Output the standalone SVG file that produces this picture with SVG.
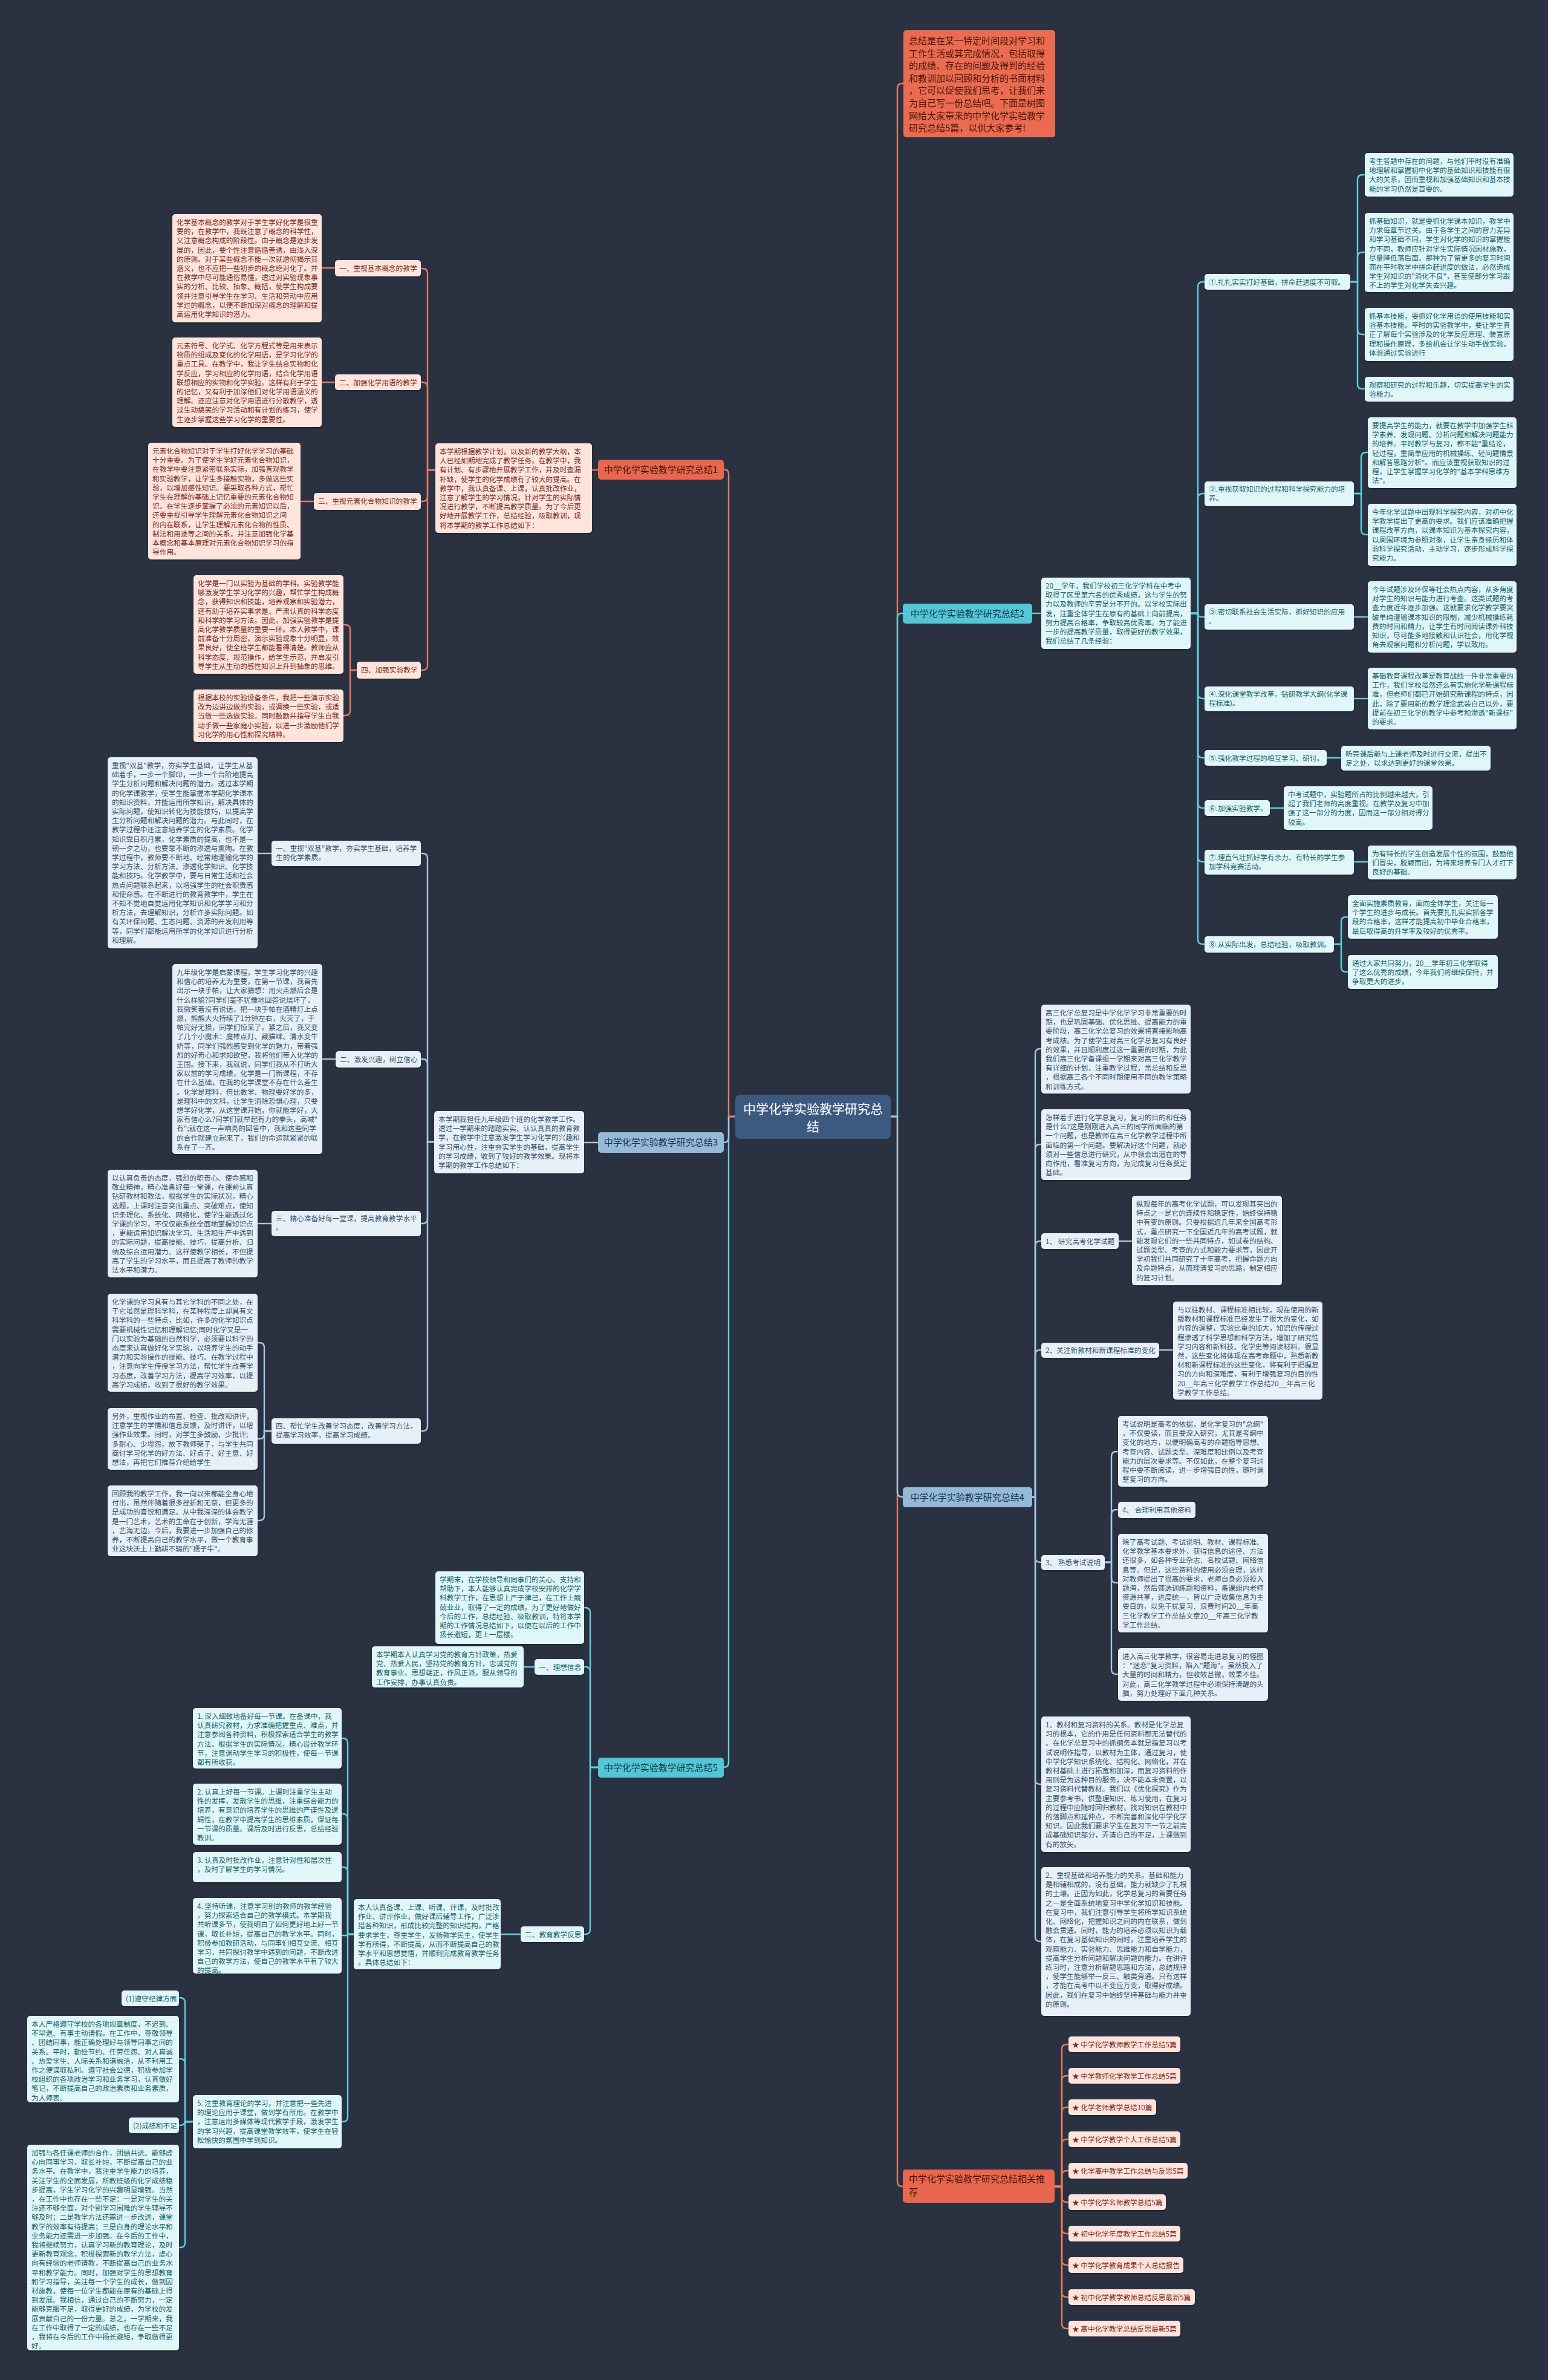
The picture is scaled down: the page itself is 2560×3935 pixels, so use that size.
<svg xmlns="http://www.w3.org/2000/svg" width="2560" height="3935" viewBox="0 0 2560 3935">
<defs>
<filter id="sh" x="-5%" y="-5%" width="110%" height="115%"><feDropShadow dx="0" dy="1.5" stdDeviation="1" flood-color="#000" flood-opacity="0.35"/></filter>
<style>
text{font-family:"Noto Sans CJK SC","Noto Sans",sans-serif}
.s{font-size:11.7px}
.ot{fill:#7e2b1c}.ct{fill:#16646e}.bt{fill:#33546f}
.ob{fill:#fde4dc;filter:url(#sh)}.cb{fill:#e0f6f8;filter:url(#sh)}.bb{fill:#e8f0f7;filter:url(#sh)}
.lab{font-size:15px}
.lo-f{fill:#e8674e}.lc-f{fill:#55c6d7}.lb-f{fill:#94b9d9}
.lot{fill:#4a1208}.lct{fill:#0c3d44}.lbt{fill:#1b3350}
#edges path{fill:none;stroke-width:2.4}
.lo{stroke:#e57a5f}.lc{stroke:#62cde0}.lb{stroke:#a6c6e2}
</style>
</defs>
<rect x="0" y="0" width="2560" height="3935" fill="#2a3242"/>
<g id="edges">
<path class="lc" d="M1216,1846 H1205 V2914 Q1205,2922 1197,2922"/>
<path class="lb" d="M1216,1846 H1205 V1881 Q1205,1889 1197,1889"/>
<path class="lo" d="M1216,1846 H1205 V784 Q1205,776 1197,776"/>
<path class="lo" d="M1473,1846 H1484 V146 Q1484,138 1492,138 H1494"/>
<path class="lo" d="M1473,1846 H1484 V3607 Q1484,3615 1492,3615 H1493"/>
<path class="lc" d="M1473,1846 H1484 V1022 Q1484,1014 1492,1014 H1493"/>
<path class="lb" d="M1473,1846 H1484 V2467 Q1484,2475 1492,2475 H1493"/>
<path class="lo" d="M989,777 H979"/>
<path class="lo" d="M720,777 H707 V452 Q707,444 699,444 H696"/>
<path class="lo" d="M720,777 H707 V640 Q707,632 699,632 H696"/>
<path class="lo" d="M720,777 H707 V821 Q707,829 699,829 H696"/>
<path class="lo" d="M720,777 H707 V1100 Q707,1108 699,1108 H696"/>
<path class="lo" d="M554,443 H532"/>
<path class="lo" d="M554,632 H532"/>
<path class="lo" d="M519,829 H497"/>
<path class="lo" d="M590,1108 H579 V1041 Q579,1033 571,1033 H568"/>
<path class="lo" d="M590,1108 H579 V1175 Q579,1183 571,1183 H568"/>
<path class="lb" d="M989,1889 H966"/>
<path class="lb" d="M718,1888 H707 V1419 Q707,1411 699,1411 H696"/>
<path class="lb" d="M718,1888 H707 V1759 Q707,1751 699,1751 H696"/>
<path class="lb" d="M718,1888 H707 V2015 Q707,2023 699,2023 H696"/>
<path class="lb" d="M718,1888 H707 V2358 Q707,2366 699,2366 H696"/>
<path class="lb" d="M449,1411 H426"/>
<path class="lb" d="M555,1751 H533"/>
<path class="lb" d="M449,2023 H426"/>
<path class="lb" d="M449,2366 H437 V2228 Q437,2220 429,2220 H426"/>
<path class="lb" d="M449,2366 H437 V2371 Q437,2379 429,2379 H426"/>
<path class="lb" d="M449,2366 H437 V2506 Q437,2514 429,2514 H426"/>
<path class="lc" d="M1707,1014 H1722"/>
<path class="lc" d="M1969,1014 H1981 V474 Q1981,466 1989,466 H1992"/>
<path class="lc" d="M1969,1014 H1981 V824 Q1981,816 1989,816 H1992"/>
<path class="lc" d="M1969,1014 H1981 Q1981,1020 1987,1020 H1992"/>
<path class="lc" d="M1969,1014 H1981 V1147 Q1981,1155 1989,1155 H1992"/>
<path class="lc" d="M1969,1014 H1981 V1245 Q1981,1253 1989,1253 H1992"/>
<path class="lc" d="M1969,1014 H1981 V1328 Q1981,1336 1989,1336 H1992"/>
<path class="lc" d="M1969,1014 H1981 V1417 Q1981,1425 1989,1425 H1992"/>
<path class="lc" d="M1969,1014 H1981 V1553 Q1981,1561 1989,1561 H1992"/>
<path class="lc" d="M2233,466 H2245 V297 Q2245,289 2253,289 H2257"/>
<path class="lc" d="M2233,466 H2245 V425 Q2245,417 2253,417 H2257"/>
<path class="lc" d="M2233,466 H2245 V545 Q2245,553 2253,553 H2257"/>
<path class="lc" d="M2233,466 H2245 V635 Q2245,643 2253,643 H2257"/>
<path class="lc" d="M2239,816 H2251 V756 Q2251,748 2259,748 H2262"/>
<path class="lc" d="M2239,816 H2251 V876 Q2251,884 2259,884 H2262"/>
<path class="lc" d="M2239,1020 H2262"/>
<path class="lc" d="M2239,1155 H2262"/>
<path class="lc" d="M2194,1253 H2218"/>
<path class="lc" d="M2100,1336 H2123"/>
<path class="lc" d="M2239,1425 H2262"/>
<path class="lc" d="M2206,1561 H2218 V1524 Q2218,1516 2226,1516 H2229"/>
<path class="lc" d="M2206,1561 H2218 V1599 Q2218,1607 2226,1607 H2229"/>
<path class="lb" d="M1707,2475 H1712 V1742 Q1712,1734 1720,1734 H1722"/>
<path class="lb" d="M1707,2475 H1712 V1900 Q1712,1892 1720,1892 H1722"/>
<path class="lb" d="M1707,2475 H1712 V2060 Q1712,2052 1720,2052 H1722"/>
<path class="lb" d="M1707,2475 H1712 V2240 Q1712,2232 1720,2232 H1722"/>
<path class="lb" d="M1707,2475 H1712 V2575 Q1712,2583 1720,2583 H1722"/>
<path class="lb" d="M1707,2475 H1712 V2942 Q1712,2950 1720,2950 H1722"/>
<path class="lb" d="M1707,2475 H1712 V3202 Q1712,3210 1720,3210 H1722"/>
<path class="lb" d="M1850,2052 H1872"/>
<path class="lb" d="M1917,2232 H1940"/>
<path class="lb" d="M1827,2583 H1838 V2408 Q1838,2400 1846,2400 H1849"/>
<path class="lb" d="M1827,2583 H1838 V2504 Q1838,2496 1846,2496 H1849"/>
<path class="lb" d="M1827,2583 H1838 V2609 Q1838,2617 1846,2617 H1849"/>
<path class="lb" d="M1827,2583 H1838 V2760 Q1838,2768 1846,2768 H1849"/>
<path class="lc" d="M989,2922 H976 V2666 Q976,2658 968,2658 H966"/>
<path class="lc" d="M989,2922 H976 V2764 Q976,2756 968,2756 H966"/>
<path class="lc" d="M989,2922 H976 V3190 Q976,3198 968,3198 H966"/>
<path class="lc" d="M884,2756 H866"/>
<path class="lc" d="M861,3198 H828"/>
<path class="lc" d="M585,3198 H575 V2882 Q575,2874 567,2874 H565"/>
<path class="lc" d="M585,3198 H575 V3007 Q575,2999 567,2999 H565"/>
<path class="lc" d="M585,3198 H575 V3095 Q575,3087 567,3087 H565"/>
<path class="lc" d="M585,3198 H575 Q575,3200 573,3200 H565"/>
<path class="lc" d="M585,3198 H575 V3500 Q575,3508 567,3508 H565"/>
<path class="lc" d="M319,3508 H306 V3311 Q306,3303 298,3303 H296"/>
<path class="lc" d="M319,3508 H306 V3412 Q306,3404 298,3404 H296"/>
<path class="lc" d="M319,3508 H306 V3506 Q306,3514 298,3514 H296"/>
<path class="lc" d="M319,3508 H306 V3708 Q306,3716 298,3716 H296"/>
<path class="lo" d="M1744,3615 H1756 V3388 Q1756,3380 1764,3380 H1767"/>
<path class="lo" d="M1744,3615 H1756 V3440 Q1756,3432 1764,3432 H1767"/>
<path class="lo" d="M1744,3615 H1756 V3492 Q1756,3484 1764,3484 H1767"/>
<path class="lo" d="M1744,3615 H1756 V3545 Q1756,3537 1764,3537 H1767"/>
<path class="lo" d="M1744,3615 H1756 V3597 Q1756,3589 1764,3589 H1767"/>
<path class="lo" d="M1744,3615 H1756 V3633 Q1756,3641 1764,3641 H1767"/>
<path class="lo" d="M1744,3615 H1756 V3685 Q1756,3693 1764,3693 H1767"/>
<path class="lo" d="M1744,3615 H1756 V3737 Q1756,3745 1764,3745 H1767"/>
<path class="lo" d="M1744,3615 H1756 V3790 Q1756,3798 1764,3798 H1767"/>
<path class="lo" d="M1744,3615 H1756 V3842 Q1756,3850 1764,3850 H1767"/>
</g>

<g id="center"><rect x="1216" y="1810" width="257" height="73" rx="8" fill="#3c5a80"/>
<text x="1344.5" y="1841" font-size="21" fill="#ffffff" text-anchor="middle">中学化学实验教学研究总</text>
<text x="1344.5" y="1870" font-size="21" fill="#ffffff" text-anchor="middle">结</text></g>

<g id="intro"><rect x="1494" y="50" width="251" height="177" rx="5" fill="#ea6b50"/>
<text font-size="15" fill="#4a150a"><tspan x="1503" y="73">总结是在某一特定时间段对学习和</tspan><tspan x="1503" y="93.6">工作生活或其完成情况，包括取得</tspan><tspan x="1503" y="114.2">的成绩、存在的问题及得到的经验</tspan><tspan x="1503" y="134.8">和教训加以回顾和分析的书面材料</tspan><tspan x="1503" y="155.4">，它可以促使我们思考，让我们来</tspan><tspan x="1503" y="176">为自己写一份总结吧。下面是树图</tspan><tspan x="1503" y="196.6">网给大家带来的中学化学实验教学</tspan><tspan x="1503" y="217.2">研究总结5篇，以供大家参考!</tspan></text></g>

<g id="b1"><rect x="989" y="760" width="208" height="33" rx="5" class="lo-f"/><text class="lab lot" x="1093" y="782" text-anchor="middle">中学化学实验教学研究总结1</text></g>
<g id="b2"><rect x="1493" y="998" width="214" height="33" rx="5" class="lc-f"/><text class="lab lct" x="1600" y="1020" text-anchor="middle">中学化学实验教学研究总结2</text></g>
<g id="b3"><rect x="989" y="1872" width="208" height="34" rx="5" class="lb-f"/><text class="lab lbt" x="1093" y="1894" text-anchor="middle">中学化学实验教学研究总结3</text></g>
<g id="b4"><rect x="1493" y="2459" width="214" height="33" rx="5" class="lb-f"/><text class="lab lbt" x="1600" y="2481" text-anchor="middle">中学化学实验教学研究总结4</text></g>
<g id="b5"><rect x="989" y="2906" width="208" height="33" rx="5" class="lc-f"/><text class="lab lct" x="1093" y="2928" text-anchor="middle">中学化学实验教学研究总结5</text></g>
<g id="b6"><rect x="1493" y="3587" width="251" height="55" rx="5" class="lo-f"/><text class="lab lot"><tspan x="1503" y="3608">中学化学实验教学研究总结相关推</tspan><tspan x="1503" y="3630">荐</tspan></text></g>

<!-- 总结1 -->
<g id="o-intro"><rect x="720" y="733" width="259" height="148" rx="5" class="ob"/><text class="s ot"><tspan x="727" y="751">本学期根据教学计划，以及新的教学大纲，本</tspan><tspan x="727" y="766.2">人已经如期地完成了教学任务。在教学中，我</tspan><tspan x="727" y="781.4">有计划、有步骤地开展教学工作，并及时查漏</tspan><tspan x="727" y="796.6">补缺，使学生的化学成绩有了较大的提高。在</tspan><tspan x="727" y="811.8">教学中，我认真备课、上课，认真批改作业，</tspan><tspan x="727" y="827">注意了解学生的学习情况，针对学生的实际情</tspan><tspan x="727" y="842.2">况进行教学，不断提高教学质量。为了今后更</tspan><tspan x="727" y="857.4">好地开展教学工作，总结经验，吸取教训，现</tspan><tspan x="727" y="872.6">将本学期的教学工作总结如下：</tspan></text></g>
<g id="o-l1"><rect x="554" y="430" width="142" height="27" rx="5" class="ob"/><text class="s ot" x="561" y="448">一、重视基本概念的教学</text></g>
<g id="o-t1"><rect x="285" y="354" width="247" height="179" rx="5" class="ob"/><text class="s ot"><tspan x="292" y="372">化学基本概念的教学对于学生学好化学是很重</tspan><tspan x="292" y="387.2">要的，在教学中，我既注意了概念的科学性，</tspan><tspan x="292" y="402.4">又注意概念构成的阶段性。由于概念是逐步发</tspan><tspan x="292" y="417.6">展的，因此，要个性注意循循善诱，由浅入深</tspan><tspan x="292" y="432.8">的原则。对于某些概念不能一次就透彻揭示其</tspan><tspan x="292" y="448">涵义，也不应把一些初步的概念绝对化了。并</tspan><tspan x="292" y="463.2">在教学中尽可能通俗易懂，透过对实验现象事</tspan><tspan x="292" y="478.4">实的分析、比较、抽象、概括，使学生构成要</tspan><tspan x="292" y="493.6">领并注意引导学生在学习、生活和劳动中应用</tspan><tspan x="292" y="508.8">学过的概念，以便不断加深对概念的理解和提</tspan><tspan x="292" y="524">高运用化学知识的潜力。</tspan></text></g>
<g id="o-l2"><rect x="554" y="619" width="142" height="26" rx="5" class="ob"/><text class="s ot" x="561" y="636.5">二、加强化学用语的教学</text></g>
<g id="o-t2"><rect x="285" y="558" width="247" height="148" rx="5" class="ob"/><text class="s ot"><tspan x="292" y="576">元素符号、化学式、化学方程式等是用来表示</tspan><tspan x="292" y="591.2">物质的组成及变化的化学用语，是学习化学的</tspan><tspan x="292" y="606.4">重点工具。在教学中，我让学生结合实物和化</tspan><tspan x="292" y="621.6">学反应，学习相应的化学用语，结合化学用语</tspan><tspan x="292" y="636.8">联想相应的实物和化学实验。这样有利于学生</tspan><tspan x="292" y="652">的记忆，又有利于加深他们对化学用语涵义的</tspan><tspan x="292" y="667.2">理解。还应注意对化学用语进行分散教学，透</tspan><tspan x="292" y="682.4">过生动搞笑的学习活动和有计划的练习，使学</tspan><tspan x="292" y="697.6">生逐步掌握这些学习化学的重要性。</tspan></text></g>
<g id="o-l3"><rect x="519" y="815" width="177" height="28" rx="5" class="ob"/><text class="s ot" x="526" y="833">三、重视元素化合物知识的教学</text></g>
<g id="o-t3"><rect x="245" y="732" width="252" height="193" rx="5" class="ob"/><text class="s ot"><tspan x="252" y="750">元素化合物知识对于学生打好化学学习的基础</tspan><tspan x="252" y="765.2">十分重要。为了使学生学好元素化合物知识，</tspan><tspan x="252" y="780.4">在教学中要注意紧密联系实际，加强直观教学</tspan><tspan x="252" y="795.6">和实验教学，让学生多接触实物，多做这些实</tspan><tspan x="252" y="810.8">验，以增加感性知识。要采取各种方式，帮忙</tspan><tspan x="252" y="826">学生在理解的基础上记忆重要的元素化合物知</tspan><tspan x="252" y="841.2">识。在学生逐步掌握了必须的元素知识以后，</tspan><tspan x="252" y="856.4">还要重视引导学生理解元素化合物知识之间</tspan><tspan x="252" y="871.6">的内在联系，让学生理解元素化合物的性质、</tspan><tspan x="252" y="886.8">制法和用途等之间的关系，并注意加强化学基</tspan><tspan x="252" y="902">本概念和基本原理对元素化合物知识学习的指</tspan><tspan x="252" y="917.2">导作用。</tspan></text></g>
<g id="o-l4"><rect x="590" y="1094" width="106" height="28" rx="5" class="ob"/><text class="s ot" x="597" y="1112">四、加强实验教学</text></g>
<g id="o-t4a"><rect x="320" y="951" width="248" height="163" rx="5" class="ob"/><text class="s ot"><tspan x="327" y="969">化学是一门以实验为基础的学科。实验教学能</tspan><tspan x="327" y="984.2">够激发学生学习化学的兴趣，帮忙学生构成概</tspan><tspan x="327" y="999.4">念，获得知识和技能，培养观察和实验潜力，</tspan><tspan x="327" y="1014.6">还有助于培养实事求是、严肃认真的科学态度</tspan><tspan x="327" y="1029.8">和科学的学习方法。因此，加强实验教学是提</tspan><tspan x="327" y="1045">高化学教学质量的重要一环。本人教学中，课</tspan><tspan x="327" y="1060.2">前准备十分周密，演示实验现象十分明显，效</tspan><tspan x="327" y="1075.4">果良好，使全班学生都能看得清楚。教师应从</tspan><tspan x="327" y="1090.6">科学态度、规范操作，给学生示范，并启发引</tspan><tspan x="327" y="1105.8">导学生从生动的感性知识上升到抽象的思维。</tspan></text></g>
<g id="o-t4b"><rect x="320" y="1140" width="248" height="87" rx="5" class="ob"/><text class="s ot"><tspan x="327" y="1158">根据本校的实验设备条件，我把一些演示实验</tspan><tspan x="327" y="1173.2">改为边讲边做的实验，或调换一些实验，或适</tspan><tspan x="327" y="1188.4">当做一些选做实验。同时鼓励并指导学生自我</tspan><tspan x="327" y="1203.6">动手做一些家庭小实验，以进一步激励他们学</tspan><tspan x="327" y="1218.8">习化学的用心性和探究精神。</tspan></text></g>

<!-- 总结2 -->
<g id="c-intro"><rect x="1722" y="955" width="247" height="118" rx="5" class="cb"/><text class="s ct"><tspan x="1729" y="973">20__学年，我们学校初三化学学科在中考中</tspan><tspan x="1729" y="988.2">取得了区里第六名的优秀成绩，这与学生的努</tspan><tspan x="1729" y="1003.4">力以及教师的辛劳是分不开的。以学校实际出</tspan><tspan x="1729" y="1018.6">发，注重全体学生在原有的基础上向前提高，</tspan><tspan x="1729" y="1033.8">努力提高合格率，争取较高优秀率。为了能进</tspan><tspan x="1729" y="1049">一步的提高教学质量，取得更好的教学效果，</tspan><tspan x="1729" y="1064.2">我们总结了几条经验：</tspan></text></g>
<g id="c-l1"><rect x="1992" y="453" width="241" height="26" rx="5" class="cb"/><text class="s ct" x="1999" y="470.5">①.扎扎实实打好基础，拼命赶进度不可取。</text></g>
<g id="c-a1"><rect x="2257" y="253" width="246" height="72" rx="5" class="cb"/><text class="s ct"><tspan x="2264" y="271">考生答题中存在的问题，与他们平时没有准确</tspan><tspan x="2264" y="286.2">地理解和掌握初中化学的基础知识和技能有很</tspan><tspan x="2264" y="301.4">大的关系，因而重视和加强基础知识和基本技</tspan><tspan x="2264" y="316.6">能的学习仍然是首要的。</tspan></text></g>
<g id="c-a2"><rect x="2257" y="352" width="246" height="131" rx="5" class="cb"/><text class="s ct"><tspan x="2264" y="370">抓基础知识，就是要抓化学课本知识，教学中</tspan><tspan x="2264" y="385.2">力求每章节过关。由于各学生之间的智力差异</tspan><tspan x="2264" y="400.4">和学习基础不同，学生对化学的知识的掌握能</tspan><tspan x="2264" y="415.6">力不同，教师应针对学生实际情况因材施教，</tspan><tspan x="2264" y="430.8">尽量降低落后面。那种为了留更多的复习时间</tspan><tspan x="2264" y="446">而在平时教学中拼命赶进度的做法，必然造成</tspan><tspan x="2264" y="461.2">学生对知识的"消化不良"，甚至使部分学习跟</tspan><tspan x="2264" y="476.4">不上的学生对化学失去兴趣。</tspan></text></g>
<g id="c-a3"><rect x="2257" y="509" width="246" height="88" rx="5" class="cb"/><text class="s ct"><tspan x="2264" y="527">抓基本技能，要抓好化学用语的使用技能和实</tspan><tspan x="2264" y="542.2">验基本技能。平时的实验教学中，要让学生真</tspan><tspan x="2264" y="557.4">正了解每个实验涉及的化学反应原理、装置原</tspan><tspan x="2264" y="572.6">理和操作原理，多给机会让学生动手做实验，</tspan><tspan x="2264" y="587.8">体验通过实验进行</tspan></text></g>
<g id="c-a4"><rect x="2257" y="623" width="246" height="41" rx="5" class="cb"/><text class="s ct"><tspan x="2264" y="641">观察和研究的过程和乐趣，切实提高学生的实</tspan><tspan x="2264" y="656.2">验能力。</tspan></text></g>
<g id="c-l2"><rect x="1992" y="796" width="247" height="41" rx="5" class="cb"/><text class="s ct"><tspan x="1999" y="813">②.重视获取知识的过程和科学探究能力的培</tspan><tspan x="1999" y="828.2">养。</tspan></text></g>
<g id="c-b1"><rect x="2262" y="690" width="246" height="117" rx="5" class="cb"/><text class="s ct"><tspan x="2269" y="708">要提高学生的能力，就要在教学中加强学生科</tspan><tspan x="2269" y="723.2">学素养、发现问题、分析问题和解决问题能力</tspan><tspan x="2269" y="738.4">的培养。平时教学与复习，都不能"重结论，</tspan><tspan x="2269" y="753.6">轻过程，重简单应用的机械操练、轻问题情景</tspan><tspan x="2269" y="768.8">和解答思路分析"。而应该重视获取知识的过</tspan><tspan x="2269" y="784">程，让学生掌握学习化学的"基本学科思维方</tspan><tspan x="2269" y="799.2">法"。</tspan></text></g>
<g id="c-b2"><rect x="2262" y="833" width="246" height="103" rx="5" class="cb"/><text class="s ct"><tspan x="2269" y="851">今年化学试题中出现科学探究内容，对初中化</tspan><tspan x="2269" y="866.2">学教学提出了更高的要求。我们应该准确把握</tspan><tspan x="2269" y="881.4">课程改革方向，以课本知识为基本探究内容，</tspan><tspan x="2269" y="896.6">以周围环境为参照对象，让学生亲身经历和体</tspan><tspan x="2269" y="911.8">验科学探究活动，主动学习，逐步形成科学探</tspan><tspan x="2269" y="927">究能力。</tspan></text></g>
<g id="c-l3"><rect x="1992" y="999" width="247" height="42" rx="5" class="cb"/><text class="s ct"><tspan x="1999" y="1016">③.密切联系社会生活实际，抓好知识的应用</tspan><tspan x="1999" y="1031.2">。</tspan></text></g>
<g id="c-c1"><rect x="2262" y="961" width="246" height="118" rx="5" class="cb"/><text class="s ct"><tspan x="2269" y="979">今年试题涉及环保等社会热点内容，从多角度</tspan><tspan x="2269" y="994.2">对学生的知识与能力进行考查。这类试题的考</tspan><tspan x="2269" y="1009.4">查力度近年逐步加强。这就要求化学教学要突</tspan><tspan x="2269" y="1024.6">破单纯灌输课本知识的限制，减少机械操练耗</tspan><tspan x="2269" y="1039.8">费的时间和精力，让学生有时间阅读课外科技</tspan><tspan x="2269" y="1055">知识，尽可能多地接触和认识社会，用化学视</tspan><tspan x="2269" y="1070.2">角去观察问题和分析问题，学以致用。</tspan></text></g>
<g id="c-l4"><rect x="1992" y="1135" width="247" height="41" rx="5" class="cb"/><text class="s ct"><tspan x="1999" y="1152">④.深化课堂教学改革，钻研教学大纲(化学课</tspan><tspan x="1999" y="1167.2">程标准)。</tspan></text></g>
<g id="c-d1"><rect x="2262" y="1104" width="246" height="102" rx="5" class="cb"/><text class="s ct"><tspan x="2269" y="1122">基础教育课程改革是教育战线一件非常重要的</tspan><tspan x="2269" y="1137.2">工作，我们学校虽然还么有实施化学新课程标</tspan><tspan x="2269" y="1152.4">准，但老师们都已开始研究新课程的特点，因</tspan><tspan x="2269" y="1167.6">此，除了要用新的教学理念武装自己以外，要</tspan><tspan x="2269" y="1182.8">提前在初三化学的教学中参考和渗透"新课标"</tspan><tspan x="2269" y="1198">的要求。</tspan></text></g>
<g id="c-l5"><rect x="1992" y="1240" width="202" height="26" rx="5" class="cb"/><text class="s ct" x="1999" y="1257.5">⑤.强化教学过程的相互学习、研讨。</text></g>
<g id="c-e1"><rect x="2218" y="1233" width="247" height="41" rx="5" class="cb"/><text class="s ct"><tspan x="2225" y="1251">听完课后能与上课老师及时进行交流，提出不</tspan><tspan x="2225" y="1266.2">足之处，以求达到更好的课堂效果。</tspan></text></g>
<g id="c-l6"><rect x="1992" y="1323" width="108" height="26" rx="5" class="cb"/><text class="s ct" x="1999" y="1340.5">⑥.加强实验教学。</text></g>
<g id="c-f1"><rect x="2123" y="1300" width="246" height="72" rx="5" class="cb"/><text class="s ct"><tspan x="2130" y="1318">中考试题中，实验题所占的比例越来越大，引</tspan><tspan x="2130" y="1333.2">起了我们老师的高度重视。在教学及复习中加</tspan><tspan x="2130" y="1348.4">强了这一部分的力度，因而这一部分相对得分</tspan><tspan x="2130" y="1363.6">较高。</tspan></text></g>
<g id="c-l7"><rect x="1992" y="1405" width="247" height="41" rx="5" class="cb"/><text class="s ct"><tspan x="1999" y="1422">⑦.理直气壮抓好学有余力、有特长的学生参</tspan><tspan x="1999" y="1437.2">加学科竞赛活动。</tspan></text></g>
<g id="c-g1"><rect x="2262" y="1398" width="246" height="56" rx="5" class="cb"/><text class="s ct"><tspan x="2269" y="1416">为有特长的学生创造发展个性的氛围，鼓励他</tspan><tspan x="2269" y="1431.2">们冒尖，脱颖而出，为将来培养专门人才打下</tspan><tspan x="2269" y="1446.4">良好的基础。</tspan></text></g>
<g id="c-l8"><rect x="1992" y="1548" width="214" height="27" rx="5" class="cb"/><text class="s ct" x="1999" y="1565.5">⑧.从实际出发，总结经验，吸取教训。</text></g>
<g id="c-h1"><rect x="2229" y="1480" width="248" height="72" rx="5" class="cb"/><text class="s ct"><tspan x="2236" y="1498">全面实施素质教育，面向全体学生，关注每一</tspan><tspan x="2236" y="1513.2">个学生的进步与成长。首先要扎扎实实抓各学</tspan><tspan x="2236" y="1528.4">段的合格率，这样才能提高初中毕业合格率，</tspan><tspan x="2236" y="1543.6">最后取得高的升学率及较好的优秀率。</tspan></text></g>
<g id="c-h2"><rect x="2229" y="1579" width="248" height="56" rx="5" class="cb"/><text class="s ct"><tspan x="2236" y="1597">通过大家共同努力，20__学年初三化学取得</tspan><tspan x="2236" y="1612.2">了这么优秀的成绩，今年我们将继续保持，并</tspan><tspan x="2236" y="1627.4">争取更大的进步。</tspan></text></g>

<!-- 总结3 -->
<g id="b-intro"><rect x="718" y="1837" width="248" height="103" rx="5" class="bb"/><text class="s bt"><tspan x="725" y="1855">本学期我担任九年级四个班的化学教学工作。</tspan><tspan x="725" y="1870.2">透过一学期来的踏踏实实、认认真真的教育教</tspan><tspan x="725" y="1885.4">学，在教学中注意激发学生学习化学的兴趣和</tspan><tspan x="725" y="1900.6">学习用心性，注重夯实学生的基础，提高学生</tspan><tspan x="725" y="1915.8">的学习成绩，收到了较好的教学效果。现将本</tspan><tspan x="725" y="1931">学期的教学工作总结如下：</tspan></text></g>
<g id="b-l1"><rect x="449" y="1390" width="247" height="42" rx="5" class="bb"/><text class="s bt"><tspan x="456" y="1407">一、重视"双基"教学，夯实学生基础，培养学</tspan><tspan x="456" y="1422.2">生的化学素质。</tspan></text></g>
<g id="b-t1"><rect x="178" y="1252" width="248" height="316" rx="5" class="bb"/><text class="s bt"><tspan x="185" y="1270">重视"双基"教学，夯实学生基础，让学生从基</tspan><tspan x="185" y="1285.2">础着手，一步一个脚印，一步一个台阶地提高</tspan><tspan x="185" y="1300.4">学生分析问题和解决问题的潜力。透过本学期</tspan><tspan x="185" y="1315.6">的化学课教学，使学生能掌握本学期化学课本</tspan><tspan x="185" y="1330.8">的知识资料，并能运用所学知识，解决具体的</tspan><tspan x="185" y="1346">实际问题，使知识转化为技能技巧，以提高学</tspan><tspan x="185" y="1361.2">生分析问题和解决问题的潜力。与此同时，在</tspan><tspan x="185" y="1376.4">教学过程中还注意培养学生的化学素质。化学</tspan><tspan x="185" y="1391.6">知识靠日积月累，化学素质的提高，也不是一</tspan><tspan x="185" y="1406.8">朝一夕之功，也要靠不断的渗透与熏陶。在教</tspan><tspan x="185" y="1422">学过程中，教师要不断地、经常地灌输化学的</tspan><tspan x="185" y="1437.2">学习方法、分析方法、渗透化学知识、化学技</tspan><tspan x="185" y="1452.4">能和技巧。化学教学中，要与日常生活和社会</tspan><tspan x="185" y="1467.6">热点问题联系起来，以增强学生的社会职责感</tspan><tspan x="185" y="1482.8">和使命感。在不断进行的教育教学中，学生在</tspan><tspan x="185" y="1498">不知不觉地自觉运用化学知识和化学学习和分</tspan><tspan x="185" y="1513.2">析方法，去理解知识，分析许多实际问题。如</tspan><tspan x="185" y="1528.4">有关环保问题、生态问题、资源的开发利用等</tspan><tspan x="185" y="1543.6">等，同学们都能运用所学的化学知识进行分析</tspan><tspan x="185" y="1558.8">和理解。</tspan></text></g>
<g id="b-l2"><rect x="555" y="1738" width="141" height="27" rx="5" class="bb"/><text class="s bt" x="562" y="1755.5">二、激发兴趣，树立信心</text></g>
<g id="b-t2"><rect x="285" y="1594" width="248" height="314" rx="5" class="bb"/><text class="s bt"><tspan x="292" y="1612">九年级化学是启蒙课程，学生学习化学的兴趣</tspan><tspan x="292" y="1627.2">和信心的培养尤为重要，在第一节课，我首先</tspan><tspan x="292" y="1642.4">出示一块手帕，让大家猜想：用火点燃后会是</tspan><tspan x="292" y="1657.6">什么样貌?同学们毫不犹豫地回答说烧坏了，</tspan><tspan x="292" y="1672.8">我微笑着没有说话，把一块手帕在酒精灯上点</tspan><tspan x="292" y="1688">燃，熊熊大火持续了1分钟左右，火灭了，手</tspan><tspan x="292" y="1703.2">帕完好无损，同学们惊呆了。紧之后，我又变</tspan><tspan x="292" y="1718.4">了几个小魔术：魔棒点灯、藏猫咪、清水变牛</tspan><tspan x="292" y="1733.6">奶等，同学们强烈感受到化学的魅力，带着强</tspan><tspan x="292" y="1748.8">烈的好奇心和求知欲望，我将他们带入化学的</tspan><tspan x="292" y="1764">王国。接下来，我就说，同学们我从不打听大</tspan><tspan x="292" y="1779.2">家以前的学习成绩，化学是一门新课程，不存</tspan><tspan x="292" y="1794.4">在什么基础，在我的化学课堂不存在什么差生</tspan><tspan x="292" y="1809.6">。化学是理科，但比数学、物理要好学的多，</tspan><tspan x="292" y="1824.8">是理科中的文科，让学生消除恐惧心理，只要</tspan><tspan x="292" y="1840">想学好化学，从这堂课开始，你就能学好，大</tspan><tspan x="292" y="1855.2">家有信心么?同学们就举起有力的拳头，高喊"</tspan><tspan x="292" y="1870.4">有";就在这一声响亮的回答中，我和这些同学</tspan><tspan x="292" y="1885.6">的合作就建立起来了，我们的命运就紧紧的联</tspan><tspan x="292" y="1900.8">系在了一齐。</tspan></text></g>
<g id="b-l3"><rect x="449" y="2002" width="247" height="42" rx="5" class="bb"/><text class="s bt"><tspan x="456" y="2019">三、精心准备好每一堂课，提高教育教学水平</tspan><tspan x="456" y="2034.2">。</tspan></text></g>
<g id="b-t3"><rect x="178" y="1934" width="248" height="178" rx="5" class="bb"/><text class="s bt"><tspan x="185" y="1952">以认真负责的态度，强烈的职责心、使命感和</tspan><tspan x="185" y="1967.2">敬业精神，精心准备好每一堂课，在课前认真</tspan><tspan x="185" y="1982.4">钻研教材和教法，根据学生的实际状况，精心</tspan><tspan x="185" y="1997.6">选题，上课时注意突出重点、突破难点，使知</tspan><tspan x="185" y="2012.8">识条理化、系统化、网络化，使学生能透过化</tspan><tspan x="185" y="2028">学课的学习，不仅仅能系统全面地掌握知识点</tspan><tspan x="185" y="2043.2">，更能运用知识解决学习、生活和生产中遇到</tspan><tspan x="185" y="2058.4">的实际问题，提高技能、技巧，提高分析、归</tspan><tspan x="185" y="2073.6">纳及综合运用潜力。这样使教学相长，不但提</tspan><tspan x="185" y="2088.8">高了学生的学习水平，而且提高了教师的教学</tspan><tspan x="185" y="2104">法水平和潜力。</tspan></text></g>
<g id="b-l4"><rect x="449" y="2345" width="247" height="42" rx="5" class="bb"/><text class="s bt"><tspan x="456" y="2362">四、帮忙学生改善学习态度，改善学习方法，</tspan><tspan x="456" y="2377.2">提高学习效率，提高学习成绩。</tspan></text></g>
<g id="b-t4a"><rect x="178" y="2139" width="248" height="162" rx="5" class="bb"/><text class="s bt"><tspan x="185" y="2157">化学课的学习具有与其它学科的不同之处，在</tspan><tspan x="185" y="2172.2">于它虽然是理科学科，在某种程度上却具有文</tspan><tspan x="185" y="2187.4">科学科的一些特点，比如，许多的化学知识点</tspan><tspan x="185" y="2202.6">需要机械性记忆和理解记忆;同时化学又是一</tspan><tspan x="185" y="2217.8">门以实验为基础的自然科学，必须要以科学的</tspan><tspan x="185" y="2233">态度来认真做好化学实验，以培养学生的动手</tspan><tspan x="185" y="2248.2">潜力和实验操作的技能、技巧。在教学过程中</tspan><tspan x="185" y="2263.4">，注意向学生传授学习方法，帮忙学生改善学</tspan><tspan x="185" y="2278.6">习态度，改善学习方法，提高学习效率，以提</tspan><tspan x="185" y="2293.8">高学习成绩，收到了很好的教学效果。</tspan></text></g>
<g id="b-t4b"><rect x="178" y="2328" width="248" height="102" rx="5" class="bb"/><text class="s bt"><tspan x="185" y="2346">另外，重视作业的布置、检查、批改和讲评，</tspan><tspan x="185" y="2361.2">注意学生的学情和信息反馈，及时讲评，以增</tspan><tspan x="185" y="2376.4">强作业效果。同时，对学生多鼓励、少批评;</tspan><tspan x="185" y="2391.6">多耐心、少埋怨，放下教师架子，与学生共同</tspan><tspan x="185" y="2406.8">商讨学习化学的好方法、好点子、好主意、好</tspan><tspan x="185" y="2422">想法，再把它们推荐介绍给学生</tspan></text></g>
<g id="b-t4c"><rect x="178" y="2456" width="248" height="117" rx="5" class="bb"/><text class="s bt"><tspan x="185" y="2474">回顾我的教学工作，我一向以来都能全身心地</tspan><tspan x="185" y="2489.2">付出，虽然伴随着很多挫折和无奈，但更多的</tspan><tspan x="185" y="2504.4">是成功的喜悦和满足。从中我深深的体会教学</tspan><tspan x="185" y="2519.6">是一门艺术，艺术的生命在于创新，学海无涯</tspan><tspan x="185" y="2534.8">，艺海无边。今后，我要进一步加强自己的修</tspan><tspan x="185" y="2550">养，不断提高自己的教学水平，做一个教育事</tspan><tspan x="185" y="2565.2">业这块沃土上勤耕不辍的"孺子牛"。</tspan></text></g>

<!-- 总结4 -->
<g id="k1"><rect x="1722" y="1661" width="247" height="147" rx="5" class="bb"/><text class="s bt"><tspan x="1729" y="1679">高三化学总复习是中学化学学习非常重要的时</tspan><tspan x="1729" y="1694.2">期，也是巩固基础、优化思维、提高能力的重</tspan><tspan x="1729" y="1709.4">要阶段，高三化学总复习的效果将直接影响高</tspan><tspan x="1729" y="1724.6">考成绩。为了使学生对高三化学总复习有良好</tspan><tspan x="1729" y="1739.8">的效果，并且顺利度过这一重要的时期，为此</tspan><tspan x="1729" y="1755">我们高三化学备课组一学期来对高三化学教学</tspan><tspan x="1729" y="1770.2">有详细的计划，注重教学过程，常总结和反思</tspan><tspan x="1729" y="1785.4">，根据高三各个不同时期使用不同的教学策略</tspan><tspan x="1729" y="1800.6">和训练方式。</tspan></text></g>
<g id="k2"><rect x="1722" y="1834" width="247" height="117" rx="5" class="bb"/><text class="s bt"><tspan x="1729" y="1852">怎样着手进行化学总复习，复习的目的和任务</tspan><tspan x="1729" y="1867.2">是什么?这是刚刚进入高三的同学所面临的第</tspan><tspan x="1729" y="1882.4">一个问题，也是教师在高三化学教学过程中所</tspan><tspan x="1729" y="1897.6">面临的第一个问题。要解决好这个问题，就必</tspan><tspan x="1729" y="1912.8">须对一些信息进行研究，从中领会出潜在的导</tspan><tspan x="1729" y="1928">向作用，看准复习方向，为完成复习任务奠定</tspan><tspan x="1729" y="1943.2">基础。</tspan></text></g>
<g id="k3"><rect x="1722" y="2039" width="128" height="26" rx="5" class="bb"/><text class="s bt" x="1729" y="2056.5">1、 研究高考化学试题</text></g>
<g id="k3a"><rect x="1872" y="1977" width="248" height="148" rx="5" class="bb"/><text class="s bt"><tspan x="1879" y="1995">纵观每年的高考化学试题，可以发现其突出的</tspan><tspan x="1879" y="2010.2">特点之一是它的连续性和稳定性，始终保持稳</tspan><tspan x="1879" y="2025.4">中有变的原则。只要根据近几年来全国高考形</tspan><tspan x="1879" y="2040.6">式，重点研究一下全国近几年的高考试题，就</tspan><tspan x="1879" y="2055.8">能发现它们的一些共同特点，如试卷的结构、</tspan><tspan x="1879" y="2071">试题类型、考查的方式和能力要求等，因此开</tspan><tspan x="1879" y="2086.2">学初我们共同研究了十年高考，把握命题方向</tspan><tspan x="1879" y="2101.4">及命题特点，从而理清复习的思路，制定相应</tspan><tspan x="1879" y="2116.6">的复习计划。</tspan></text></g>
<g id="k4"><rect x="1722" y="2220" width="195" height="25" rx="5" class="bb"/><text class="s bt" x="1729" y="2237">2、关注新教材和新课程标准的变化</text></g>
<g id="k4a"><rect x="1940" y="2152" width="247" height="162" rx="5" class="bb"/><text class="s bt"><tspan x="1947" y="2170">与以往教材、课程标准相比较，现在使用的新</tspan><tspan x="1947" y="2185.2">版教材和课程标准已经发生了很大的变化，如</tspan><tspan x="1947" y="2200.4">内容的调整，实验比重的加大，知识的传授过</tspan><tspan x="1947" y="2215.6">程渗透了科学思想和科学方法，增加了研究性</tspan><tspan x="1947" y="2230.8">学习内容和新科技、化学史等阅读材料。很显</tspan><tspan x="1947" y="2246">然，这些变化将体现在高考命题中，熟悉新教</tspan><tspan x="1947" y="2261.2">材和新课程标准的这些变化，将有利于把握复</tspan><tspan x="1947" y="2276.4">习的方向和深难度，有利于增强复习的目的性</tspan><tspan x="1947" y="2291.6">20__年高三化学教学工作总结20__年高三化</tspan><tspan x="1947" y="2306.8">学教学工作总结。</tspan></text></g>
<g id="k5"><rect x="1722" y="2571" width="105" height="25" rx="5" class="bb"/><text class="s bt" x="1729" y="2588">3、 熟悉考试说明</text></g>
<g id="k5a"><rect x="1849" y="2341" width="248" height="117" rx="5" class="bb"/><text class="s bt"><tspan x="1856" y="2359">考试说明是高考的依据，是化学复习的"总纲"</tspan><tspan x="1856" y="2374.2">，不仅要读，而且要深入研究，尤其是考纲中</tspan><tspan x="1856" y="2389.4">变化的地方，以便明确高考的命题指导思想、</tspan><tspan x="1856" y="2404.6">考查内容、试题类型、深难度和比例以及考查</tspan><tspan x="1856" y="2419.8">能力的层次要求等。不仅如此，在整个复习过</tspan><tspan x="1856" y="2435">程中要不断阅读，进一步增强目的性，随时调</tspan><tspan x="1856" y="2450.2">整复习的方向。</tspan></text></g>
<g id="k5b"><rect x="1849" y="2483" width="128" height="27" rx="5" class="bb"/><text class="s bt" x="1856" y="2500.5">4、 合理利用其他资料</text></g>
<g id="k5c"><rect x="1849" y="2536" width="248" height="163" rx="5" class="bb"/><text class="s bt"><tspan x="1856" y="2554">除了高考试题、考试说明、教材、课程标准、</tspan><tspan x="1856" y="2569.2">化学教学基本要求外，获得信息的途径、方法</tspan><tspan x="1856" y="2584.4">还很多，如各种专业杂志、名校试题、网络信</tspan><tspan x="1856" y="2599.6">息等。但是，这些资料的使用必须合理，这样</tspan><tspan x="1856" y="2614.8">对教师提出了很高的要求，老师自身必须投入</tspan><tspan x="1856" y="2630">题海，然后筛选训练题和资料，备课组内老师</tspan><tspan x="1856" y="2645.2">资源共享，进度统一，皆以广泛收集信息为主</tspan><tspan x="1856" y="2660.4">要目的，以免干扰复习、浪费时间20__年高</tspan><tspan x="1856" y="2675.6">三化学教学工作总结文章20__年高三化学教</tspan><tspan x="1856" y="2690.8">学工作总结。</tspan></text></g>
<g id="k5d"><rect x="1849" y="2725" width="248" height="87" rx="5" class="bb"/><text class="s bt"><tspan x="1856" y="2743">进入高三化学教学，很容易走进总复习的怪圈</tspan><tspan x="1856" y="2758.2">："迷恋"复习资料，陷入"题海"。虽然投入了</tspan><tspan x="1856" y="2773.4">大量的时间和精力，但收效甚微，效果不佳。</tspan><tspan x="1856" y="2788.6">对此，高三化学教学过程中必须保持清醒的头</tspan><tspan x="1856" y="2803.8">脑，努力处理好下面几种关系。</tspan></text></g>
<g id="k6"><rect x="1722" y="2838" width="247" height="224" rx="5" class="bb"/><text class="s bt"><tspan x="1729" y="2856">1、教材和复习资料的关系。教材是化学总复</tspan><tspan x="1729" y="2871.2">习的根本，它的作用是任何资料都无法替代的</tspan><tspan x="1729" y="2886.4">。在化学总复习中的抓纲务本就是指复习以考</tspan><tspan x="1729" y="2901.6">试说明作指导，以教材为主体，通过复习，使</tspan><tspan x="1729" y="2916.8">中学化学知识系统化、结构化、网络化，并在</tspan><tspan x="1729" y="2932">教材基础上进行拓宽和加深，而复习资料的作</tspan><tspan x="1729" y="2947.2">用则是为这种目的服务，决不能本末倒置，以</tspan><tspan x="1729" y="2962.4">复习资料代替教材。我们以《优化探究》作为</tspan><tspan x="1729" y="2977.6">主要参考书，供整理知识、练习使用，在复习</tspan><tspan x="1729" y="2992.8">的过程中应随时回归教材，找到知识在教材中</tspan><tspan x="1729" y="3008">的落脚点和延伸点，不断完善和深化中学化学</tspan><tspan x="1729" y="3023.2">知识。因此我们要求学生在复习下一节之前完</tspan><tspan x="1729" y="3038.4">成基础知识部分，弄清自己的不足，上课做到</tspan><tspan x="1729" y="3053.6">有的放矢。</tspan></text></g>
<g id="k7"><rect x="1722" y="3087" width="247" height="246" rx="5" class="bb"/><text class="s bt"><tspan x="1729" y="3105">2、重视基础和培养能力的关系。基础和能力</tspan><tspan x="1729" y="3120.2">是相辅相成的，没有基础，能力就缺少了扎根</tspan><tspan x="1729" y="3135.4">的土壤。正因为如此，化学总复习的首要任务</tspan><tspan x="1729" y="3150.6">之一是全面系统地复习中学化学知识和技能。</tspan><tspan x="1729" y="3165.8">在复习中，我们注意引导学生将所学知识系统</tspan><tspan x="1729" y="3181">化、网络化，把握知识之间的内在联系，做到</tspan><tspan x="1729" y="3196.2">融会贯通。同时，能力的培养必须以知识为载</tspan><tspan x="1729" y="3211.4">体，在复习基础知识的同时，注重培养学生的</tspan><tspan x="1729" y="3226.6">观察能力、实验能力、思维能力和自学能力，</tspan><tspan x="1729" y="3241.8">提高学生分析问题和解决问题的能力。在讲评</tspan><tspan x="1729" y="3257">练习时，注意分析解题思路和方法，总结规律</tspan><tspan x="1729" y="3272.2">，使学生能够举一反三、触类旁通。只有这样</tspan><tspan x="1729" y="3287.4">，才能在高考中以不变应万变，取得好成绩。</tspan><tspan x="1729" y="3302.6">因此，我们在复习中始终坚持基础与能力并重</tspan><tspan x="1729" y="3317.8">的原则。</tspan></text></g>

<!-- 总结5 -->
<g id="p0"><rect x="720" y="2598" width="246" height="120" rx="5" class="cb"/><text class="s ct"><tspan x="727" y="2616">学期末，在学校领导和同事们的关心、支持和</tspan><tspan x="727" y="2631.2">帮助下，本人能够认真完成学校安排的化学学</tspan><tspan x="727" y="2646.4">科教学工作，在思想上严于律己，在工作上兢</tspan><tspan x="727" y="2661.6">兢业业，取得了一定的成绩。为了更好地做好</tspan><tspan x="727" y="2676.8">今后的工作，总结经验、吸取教训，特将本学</tspan><tspan x="727" y="2692">期的工作情况总结如下，以便在以后的工作中</tspan><tspan x="727" y="2707.2">扬长避短，更上一层楼。</tspan></text></g>
<g id="p-l1"><rect x="884" y="2743" width="82" height="26" rx="5" class="cb"/><text class="s ct" x="891" y="2760.5">一、理想信念</text></g>
<g id="p1"><rect x="615" y="2722" width="251" height="68" rx="5" class="cb"/><text class="s ct"><tspan x="622" y="2740">本学期本人认真学习党的教育方针政策，热爱</tspan><tspan x="622" y="2755.2">党、热爱人民，坚持党的教育方针，忠诚党的</tspan><tspan x="622" y="2770.4">教育事业。思想端正，作风正派，服从领导的</tspan><tspan x="622" y="2785.6">工作安排，办事认真负责。</tspan></text></g>
<g id="p-l2"><rect x="861" y="3185" width="105" height="26" rx="5" class="cb"/><text class="s ct" x="868" y="3202.5">二、教育教学反思</text></g>
<g id="p2"><rect x="585" y="3140" width="243" height="116" rx="5" class="cb"/><text class="s ct"><tspan x="592" y="3158">本人认真备课、上课、听课、评课，及时批改</tspan><tspan x="592" y="3173.2">作业、讲评作业，做好课后辅导工作，广泛涉</tspan><tspan x="592" y="3188.4">猎各种知识，形成比较完整的知识结构，严格</tspan><tspan x="592" y="3203.6">要求学生，尊重学生，发扬教学民主，使学生</tspan><tspan x="592" y="3218.8">学有所得，不断提高，从而不断提高自己的教</tspan><tspan x="592" y="3234">学水平和思想觉悟，并顺利完成教育教学任务</tspan><tspan x="592" y="3249.2">。具体总结如下：</tspan></text></g>
<g id="i1"><rect x="319" y="2824" width="246" height="100" rx="5" class="cb"/><text class="s ct"><tspan x="326" y="2842">1. 深入细致地备好每一节课。在备课中，我</tspan><tspan x="326" y="2857.2">认真研究教材，力求准确把握重点、难点，并</tspan><tspan x="326" y="2872.4">注意参阅各种资料，积极探索适合学生的教学</tspan><tspan x="326" y="2887.6">方法。根据学生的实际情况，精心设计教学环</tspan><tspan x="326" y="2902.8">节，注意调动学生学习的积极性，使每一节课</tspan><tspan x="326" y="2918">都有所收获。</tspan></text></g>
<g id="i2"><rect x="319" y="2949" width="246" height="101" rx="5" class="cb"/><text class="s ct"><tspan x="326" y="2967">2. 认真上好每一节课。上课时注重学生主动</tspan><tspan x="326" y="2982.2">性的发挥，发散学生的思维，注重综合能力的</tspan><tspan x="326" y="2997.4">培养，有意识的培养学生的思维的严谨性及逻</tspan><tspan x="326" y="3012.6">辑性，在教学中提高学生的思维素质，保证每</tspan><tspan x="326" y="3027.8">一节课的质量。课后及时进行反思，总结经验</tspan><tspan x="326" y="3043">教训。</tspan></text></g>
<g id="i3"><rect x="319" y="3062" width="246" height="50" rx="5" class="cb"/><text class="s ct"><tspan x="326" y="3080">3. 认真及时批改作业，注意针对性和层次性</tspan><tspan x="326" y="3095.2">，及时了解学生的学习情况。</tspan></text></g>
<g id="i4"><rect x="319" y="3138" width="246" height="125" rx="5" class="cb"/><text class="s ct"><tspan x="326" y="3156">4. 坚持听课，注意学习别的教师的教学经验</tspan><tspan x="326" y="3171.2">，努力探索适合自己的教学模式。本学期我</tspan><tspan x="326" y="3186.4">共听课多节，使我明白了如何更好地上好一节</tspan><tspan x="326" y="3201.6">课，取长补短，提高自己的教学水平。同时，</tspan><tspan x="326" y="3216.8">积极参加教研活动，与同事们相互交流、相互</tspan><tspan x="326" y="3232">学习，共同探讨教学中遇到的问题，不断改进</tspan><tspan x="326" y="3247.2">自己的教学方法，使自己的教学水平有了较大</tspan><tspan x="326" y="3262.4">的提高。</tspan></text></g>
<g id="i5"><rect x="319" y="3464" width="246" height="88" rx="5" class="cb"/><text class="s ct"><tspan x="326" y="3482">5. 注重教育理论的学习，并注意把一些先进</tspan><tspan x="326" y="3497.2">的理论应用于课堂，做到学有所用。在教学中</tspan><tspan x="326" y="3512.4">，注意运用多媒体等现代教学手段，激发学生</tspan><tspan x="326" y="3527.6">的学习兴趣，提高课堂教学效率，使学生在轻</tspan><tspan x="326" y="3542.8">松愉快的氛围中学到知识。</tspan></text></g>
<g id="q1l"><rect x="201" y="3291" width="95" height="26" rx="5" class="cb"/><text class="s ct" x="208" y="3308.5">(1)遵守纪律方面</text></g>
<g id="q1"><rect x="45" y="3333" width="251" height="143" rx="5" class="cb"/><text class="s ct"><tspan x="52" y="3351">本人严格遵守学校的各项规章制度，不迟到、</tspan><tspan x="52" y="3366.2">不早退、有事主动请假。在工作中，尊敬领导</tspan><tspan x="52" y="3381.4">、团结同事，能正确处理好与领导同事之间的</tspan><tspan x="52" y="3396.6">关系。平时，勤俭节约、任劳任怨、对人真诚</tspan><tspan x="52" y="3411.8">、热爱学生、人际关系和谐融洽，从不利用工</tspan><tspan x="52" y="3427">作之便谋取私利。遵守社会公德，积极参加学</tspan><tspan x="52" y="3442.2">校组织的各项政治学习和业务学习，认真做好</tspan><tspan x="52" y="3457.4">笔记，不断提高自己的政治素质和业务素质，</tspan><tspan x="52" y="3472.6">为人师表。</tspan></text></g>
<g id="q2l"><rect x="213" y="3501" width="83" height="26" rx="5" class="cb"/><text class="s ct" x="220" y="3518.5">(2)成绩和不足</text></g>
<g id="q2"><rect x="45" y="3546" width="251" height="340" rx="5" class="cb"/><text class="s ct"><tspan x="52" y="3564">加强与各任课老师的合作，团结共进。能够虚</tspan><tspan x="52" y="3579.2">心向同事学习，取长补短，不断提高自己的业</tspan><tspan x="52" y="3594.4">务水平。在教学中，我注重学生能力的培养，</tspan><tspan x="52" y="3609.6">关注学生的全面发展，所教班级的化学成绩稳</tspan><tspan x="52" y="3624.8">步提高，学生学习化学的兴趣明显增强。当然</tspan><tspan x="52" y="3640">，在工作中也存在一些不足：一是对学生的关</tspan><tspan x="52" y="3655.2">注还不够全面，对个别学习困难的学生辅导不</tspan><tspan x="52" y="3670.4">够及时；二是教学方法还需进一步改进，课堂</tspan><tspan x="52" y="3685.6">教学的效率有待提高；三是自身的理论水平和</tspan><tspan x="52" y="3700.8">业务能力还需进一步加强。在今后的工作中，</tspan><tspan x="52" y="3716">我将继续努力，认真学习新的教育理论，及时</tspan><tspan x="52" y="3731.2">更新教育观念，积极探索新的教学方法，虚心</tspan><tspan x="52" y="3746.4">向有经验的老师请教，不断提高自己的业务水</tspan><tspan x="52" y="3761.6">平和教学能力。同时，加强对学生的思想教育</tspan><tspan x="52" y="3776.8">和学习指导，关注每一个学生的成长，做到因</tspan><tspan x="52" y="3792">材施教，使每一位学生都能在原有的基础上得</tspan><tspan x="52" y="3807.2">到发展。我相信，通过自己的不断努力，一定</tspan><tspan x="52" y="3822.4">能够克服不足，取得更好的成绩，为学校的发</tspan><tspan x="52" y="3837.6">展贡献自己的一份力量。总之，一学期来，我</tspan><tspan x="52" y="3852.8">在工作中取得了一定的成绩，也存在一些不足</tspan><tspan x="52" y="3868">，我将在今后的工作中扬长避短，争取做得更</tspan><tspan x="52" y="3883.2">好。</tspan></text></g>

<!-- 相关推荐 -->
<g id="r1"><rect x="1767" y="3367" width="185" height="26" rx="5" class="ob"/><text class="s ot" x="1773" y="3384.5">★ 中学化学教师教学工作总结5篇</text></g>
<g id="r2"><rect x="1767" y="3419" width="185" height="26" rx="5" class="ob"/><text class="s ot" x="1773" y="3436.5">★ 中学教师化学教学工作总结5篇</text></g>
<g id="r3"><rect x="1767" y="3471" width="145" height="26" rx="5" class="ob"/><text class="s ot" x="1773" y="3488.5">★ 化学老师教学总结10篇</text></g>
<g id="r4"><rect x="1767" y="3524" width="185" height="26" rx="5" class="ob"/><text class="s ot" x="1773" y="3541.5">★ 中学化学教学个人工作总结5篇</text></g>
<g id="r5"><rect x="1767" y="3576" width="197" height="26" rx="5" class="ob"/><text class="s ot" x="1773" y="3593.5">★ 化学高中教学工作总结与反思5篇</text></g>
<g id="r6"><rect x="1767" y="3628" width="161" height="26" rx="5" class="ob"/><text class="s ot" x="1773" y="3645.5">★ 中学化学名师教学总结5篇</text></g>
<g id="r7"><rect x="1767" y="3680" width="185" height="26" rx="5" class="ob"/><text class="s ot" x="1773" y="3697.5">★ 初中化学年度教学工作总结5篇</text></g>
<g id="r8"><rect x="1767" y="3732" width="190" height="26" rx="5" class="ob"/><text class="s ot" x="1773" y="3749.5">★ 中学化学教育成果个人总结报告</text></g>
<g id="r9"><rect x="1767" y="3785" width="209" height="26" rx="5" class="ob"/><text class="s ot" x="1773" y="3802.5">★ 初中化学教学教师总结反思最新5篇</text></g>
<g id="r10"><rect x="1767" y="3837" width="185" height="26" rx="5" class="ob"/><text class="s ot" x="1773" y="3854.5">★ 高中化学教学总结反思最新5篇</text></g>
</svg>
